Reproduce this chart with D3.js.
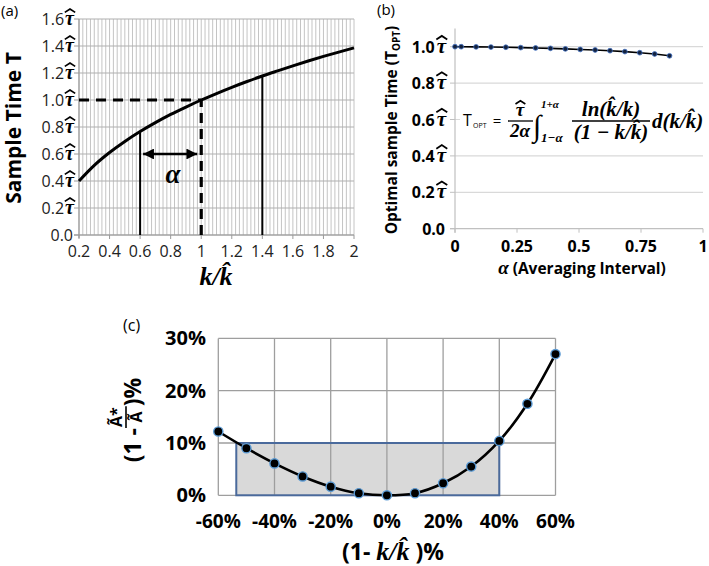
<!DOCTYPE html>
<html><head><meta charset="utf-8">
<script src="https://cdn.jsdelivr.net/npm/d3@7"></script>
<style>body{margin:0;background:#fff}svg{display:block}</style>
</head><body>
<svg id="chart" width="709" height="566"></svg>
<script>
// ---------- Panel (a) data ----------
const ratioA = [0.2,0.3,0.4,0.5,0.6,0.7,0.8,0.9,1.0,1.1,1.2,1.3,1.4,1.5,1.6,1.7,1.8,1.9,2.0];
const sampleTimeA = [0.40,0.516,0.611,0.693,0.766,0.832,0.893,0.948,1.00,1.048,1.094,1.137,1.178,1.216,1.253,1.289,1.323,1.355,1.386];
const yTicksA = [0,0.2,0.4,0.6,0.8,1.0,1.2,1.4,1.6];
const xTicksA = [0.2,0.4,0.6,0.8,1,1.2,1.4,1.6,1.8,2];
const markersA = [0.6, 1.4];
const refA = [1.0];
const arrowA = {from:0.6, to:1.0, level:0.6};

// ---------- Panel (b) data ----------
const alphaB = [0,0.025,0.085,0.145,0.205,0.265,0.325,0.385,0.445,0.505,0.565,0.625,0.685,0.745,0.805,0.865];
const toptB = [1.000,1.000,0.999,0.998,0.997,0.995,0.993,0.991,0.988,0.985,0.982,0.978,0.973,0.967,0.960,0.950];
const yTicksB = [0,0.2,0.4,0.6,0.8,1.0];
const xTicksB = [0,0.25,0.5,0.75,1];
const xLabelsB = ["0","0.25","0.5","0.75","1"];

// ---------- Panel (c) data ----------
const devC = [-60,-50,-40,-30,-20,-10,0,10,20,30,40,50,60];
const errC = [12.2,9.0,6.1,3.6,1.65,0.4,0,0.4,2.3,5.5,10.4,17.5,27.0];
const yTicksC = [0,10,20,30];
const xTicksC = [-60,-40,-20,0,20,40,60];
const bandXC = [-53.6,40];
const bandYC = [0,10];

const SANS = "'Open Sans', sans-serif";
const SERIF = "'Liberation Serif', 'DejaVu Serif', serif";
const KHAT = "k\u0302";
const svg = d3.select("#chart");

function txt(g, s, x, y, o) {
  o = o || {};
  return g.append("text").attr("x", x).attr("y", y)
    .attr("font-family", o.family || SANS).attr("font-size", o.size || 14)
    .attr("font-weight", o.weight || "normal").attr("font-style", o.style || "normal")
    .attr("text-anchor", o.anchor || "start").attr("fill", o.fill || "#000").text(s);
}
function tauHat(g, x, yb, size) {
  const t = txt(g, "\u03C4", x, yb, {family:SERIF, size:size, weight:"bold", style:"italic"});
  const w = t.node().getComputedTextLength();
  const cx = x + w*0.55, top = yb - size*0.80, hw = size*0.26, hh = size*0.17;
  g.append("path").attr("d", `M${cx-hw},${top+hh} L${cx},${top} L${cx+hw},${top+hh}`)
    .attr("fill","none").attr("stroke","#000").attr("stroke-width", size*0.085).attr("stroke-linejoin","miter");
  return w;
}
function measure(s, o) {
  const t = txt(svg, s, 0, -100, o);
  const w = t.node().getComputedTextLength();
  t.remove();
  return w;
}

// ================= Panel (a) =================
(function(){
  const g = svg.append("g");
  const x = d3.scaleLinear().domain([0.2,2]).range([79,354]);
  const y = d3.scaleLinear().domain([0,1.6]).range([235,19]);
  const gridX = d3.range(0, 73).map(i => 0.2 + i*0.025);
  g.selectAll(".vg").data(gridX).join("line")
    .attr("x1", d=>x(d)).attr("x2", d=>x(d)).attr("y1", y(1.6)).attr("y2", y(0))
    .attr("stroke", "#c4c4c4").attr("stroke-width", 1);
  g.selectAll(".hg").data(yTicksA).join("line")
    .attr("x1", x(0.2)).attr("x2", x(2)).attr("y1", d=>y(d)).attr("y2", d=>y(d))
    .attr("stroke", "#b0b0b0").attr("stroke-width", 1.2);
  g.append("line").attr("x1", x(0.2)).attr("x2", x(0.2)).attr("y1", y(1.6)).attr("y2", y(0)+3).attr("stroke","#9a9a9a").attr("stroke-width",1.2);
  g.append("line").attr("x1", x(0.2)-5).attr("x2", x(2)).attr("y1", y(0)).attr("y2", y(0)).attr("stroke","#9a9a9a").attr("stroke-width",1.2);
  g.selectAll(".yt").data(yTicksA).join("line").attr("x1", x(0.2)-5).attr("x2", x(0.2)).attr("y1", d=>y(d)).attr("y2", d=>y(d)).attr("stroke","#9a9a9a");
  g.selectAll(".xt").data(xTicksA).join("line").attr("x1", d=>x(d)).attr("x2", d=>x(d)).attr("y1", y(0)).attr("y2", y(0)+4).attr("stroke","#9a9a9a");
  const tw = measure("\u03C4", {family:SERIF, size:20, weight:"bold", style:"italic"});
  yTicksA.forEach(v => {
    if (v > 0) {
      txt(g, v.toFixed(1), x(0.2)-5-tw-1, y(v)+6, {size:16, anchor:"end", fill:"#222"});
      tauHat(g, x(0.2)-5-tw, y(v)+6, 20);
    } else {
      txt(g, v.toFixed(1), x(0.2)-6, y(v)+6, {size:16, anchor:"end", fill:"#222"});
    }
  });
  xTicksA.forEach(v => txt(g, String(v), x(v), 257, {size:16, anchor:"middle", fill:"#222"}));
  const pts = ratioA.map((r,i)=>[r, sampleTimeA[i]]);
  g.append("path").attr("d", d3.line().x(d=>x(d[0])).y(d=>y(d[1])).curve(d3.curveCatmullRom)(pts))
    .attr("fill","none").attr("stroke","#000").attr("stroke-width",3);
  markersA.forEach(m => {
    const v = sampleTimeA[ratioA.findIndex(r => Math.abs(r-m) < 1e-9)];
    g.append("line").attr("x1", x(m)).attr("x2", x(m)).attr("y1", y(0)).attr("y2", y(v)).attr("stroke","#000").attr("stroke-width",2);
  });
  refA.forEach(m => {
    const v = sampleTimeA[ratioA.findIndex(r => Math.abs(r-m) < 1e-9)];
    g.append("line").attr("x1", x(m)).attr("x2", x(m)).attr("y1", y(0)).attr("y2", y(v)).attr("stroke","#000").attr("stroke-width",3.2).attr("stroke-dasharray","10,6");
    g.append("line").attr("x1", x(0.2)).attr("x2", x(m)).attr("y1", y(v)).attr("y2", y(v)).attr("stroke","#000").attr("stroke-width",3.2).attr("stroke-dasharray","10,7");
  });
  const defs = svg.append("defs");
  defs.append("marker").attr("id","ah").attr("viewBox","0 0 10 10").attr("refX",10).attr("refY",5)
    .attr("markerWidth",5).attr("markerHeight",4.5).attr("markerUnits","strokeWidth").attr("orient","auto-start-reverse")
    .append("path").attr("d","M0,0 L10,5 L0,10 Z").attr("fill","#000");
  g.append("line").attr("x1", x(arrowA.from)+3).attr("x2", x(arrowA.to)-4).attr("y1", y(arrowA.level)).attr("y2", y(arrowA.level))
    .attr("stroke","#000").attr("stroke-width",2.4).attr("marker-start","url(#ah)").attr("marker-end","url(#ah)");
  txt(g, "\u03B1", x(0.815), y(0.44)+7, {family:SERIF, size:27, weight:"bold", style:"italic", anchor:"middle"});
  txt(g, "Sample Time T", 0, 0, {size:21, weight:"bold", anchor:"middle"}).attr("transform","translate(21,128) rotate(-90)");
  txt(g, "k/" + KHAT, 216, 285, {family:SERIF, size:26, weight:"bold", style:"italic", anchor:"middle"});
  txt(g, "(a)", 1, 16, {size:15});
})();

// ================= Panel (b) =================
(function(){
  const g = svg.append("g");
  const x = d3.scaleLinear().domain([0,1]).range([455,703]);
  const y = d3.scaleLinear().domain([0,1.1]).range([228.7,28.5]);
  g.selectAll(".hg").data(yTicksB.filter(v=>v>0)).join("line")
    .attr("x1", x(0)).attr("x2", x(1)).attr("y1", d=>y(d)).attr("y2", d=>y(d))
    .attr("stroke","#d9d9d9").attr("stroke-width",1.2);
  g.append("line").attr("x1", x(0)).attr("x2", x(0)).attr("y1", y(1.1)).attr("y2", y(0)+4).attr("stroke","#c0c0c0").attr("stroke-width",1.2);
  g.append("line").attr("x1", x(0)-5).attr("x2", x(1)).attr("y1", y(0)).attr("y2", y(0)).attr("stroke","#c0c0c0").attr("stroke-width",1.2);
  g.selectAll(".yt").data(yTicksB).join("line").attr("x1", x(0)-5).attr("x2", x(0)).attr("y1", d=>y(d)).attr("y2", d=>y(d)).attr("stroke","#c0c0c0");
  g.selectAll(".xt").data(xTicksB).join("line").attr("x1", d=>x(d)).attr("x2", d=>x(d)).attr("y1", y(0)).attr("y2", y(0)+4).attr("stroke","#c0c0c0");
  const tw = measure("\u03C4", {family:SERIF, size:21, weight:"bold", style:"italic"});
  yTicksB.forEach(v => {
    if (v > 0) {
      txt(g, v.toFixed(1), 446-tw-2, y(v)+6, {size:16, weight:"bold", anchor:"end"});
      tauHat(g, 446-tw, y(v)+6, 21);
    } else {
      txt(g, v.toFixed(1), 445, y(v)+6, {size:16, weight:"bold", anchor:"end"});
    }
  });
  xTicksB.forEach((v,i) => txt(g, xLabelsB[i], x(v), 252, {size:16, weight:"bold", anchor:"middle"}));
  const pts = alphaB.map((a,i)=>[a, toptB[i]]);
  g.append("path").attr("d", d3.line().x(d=>x(d[0])).y(d=>y(d[1]))(pts)).attr("fill","none").attr("stroke","#000").attr("stroke-width",1.6);
  g.selectAll(".dot").data(pts).join("circle").attr("cx", d=>x(d[0])).attr("cy", d=>y(d[1])).attr("r",2.4)
    .attr("fill","#14233f").attr("stroke","#4472c4").attr("stroke-width",0.8);
  const yt = g.append("text").attr("transform","translate(397,130) rotate(-90)").attr("text-anchor","middle")
    .attr("font-family", SANS).attr("font-weight","bold").attr("font-size",15.5);
  yt.append("tspan").text("Optimal sample Time (T");
  yt.append("tspan").attr("font-size",10).attr("dy",3).text("OPT");
  yt.append("tspan").attr("dy",-3).text(")");
  const xt = g.append("text").attr("x", 582).attr("y", 274).attr("text-anchor","middle").attr("font-family", SANS).attr("font-weight","bold").attr("font-size",15.5);
  xt.append("tspan").attr("font-family", SERIF).attr("font-style","italic").attr("font-size",19).text("\u03B1");
  xt.append("tspan").text(" (Averaging Interval)");
  txt(g, "(b)", 377, 15, {size:15});

  const f = g.append("g");
  f.append("rect").attr("x",460).attr("y",98).attr("width",249).attr("height",47).attr("fill","#fff");
  txt(f, "T", 463, 126, {size:16});
  txt(f, "OPT", 473, 128, {size:7});
  txt(f, "=", 497, 126, {size:15, anchor:"middle"});
  const M = {family:SERIF, weight:"bold", style:"italic"};
  const tws = measure("\u03C4", Object.assign({size:19}, M));
  tauHat(f, 520 - tws/2, 116, 19);
  f.append("line").attr("x1",508).attr("x2",533).attr("y1",121).attr("y2",121).attr("stroke","#000").attr("stroke-width",1.3);
  txt(f, "2\u03B1", 520, 137, Object.assign({size:19, anchor:"middle"}, M));
  txt(f, "\u222B", 537, 136, {family:SERIF, size:30, anchor:"middle"});
  txt(f, "1+\u03B1", 541, 108, Object.assign({size:11}, M));
  txt(f, "1\u2212\u03B1", 541, 142, Object.assign({size:13}, M));
  txt(f, "ln(" + KHAT + "/k)", 611, 116, Object.assign({size:21, anchor:"middle"}, M));
  f.append("line").attr("x1",572).attr("x2",650).attr("y1",121).attr("y2",121).attr("stroke","#000").attr("stroke-width",1.3);
  txt(f, "(1 \u2212 k/" + KHAT + ")", 611, 139, Object.assign({size:21, anchor:"middle"}, M));
  txt(f, "d(k/" + KHAT + ")", 652, 128, Object.assign({size:21}, M));
})();

// ================= Panel (c) =================
(function(){
  const g = svg.append("g");
  const x = d3.scaleLinear().domain([-60,60]).range([218.3,555.5]);
  const y = d3.scaleLinear().domain([0,30]).range([495.3,338.4]);
  g.append("rect").attr("x", x(bandXC[0])).attr("y", y(bandYC[1])).attr("width", x(bandXC[1])-x(bandXC[0])).attr("height", y(bandYC[0])-y(bandYC[1]))
    .attr("fill","#d9d9d9");
  g.selectAll(".vg").data(xTicksC).join("line").attr("x1", d=>x(d)).attr("x2", d=>x(d)).attr("y1", y(30)).attr("y2", y(0))
    .attr("stroke","#9e9e9e").attr("stroke-width",1.3);
  g.selectAll(".hg").data(yTicksC).join("line").attr("x1", x(-60)).attr("x2", x(60)).attr("y1", d=>y(d)).attr("y2", d=>y(d))
    .attr("stroke","#9e9e9e").attr("stroke-width",1.3);
  g.append("rect").attr("x", x(bandXC[0])).attr("y", y(bandYC[1])).attr("width", x(bandXC[1])-x(bandXC[0])).attr("height", y(bandYC[0])-y(bandYC[1]))
    .attr("fill","none").attr("stroke","#4a6a9c").attr("stroke-width",2);
  yTicksC.forEach(v => txt(g, v + "%", 206, y(v)+7, {size:20, weight:"bold", anchor:"end"}));
  xTicksC.forEach(v => txt(g, v + "%", x(v), 528, {size:19, weight:"bold", anchor:"middle"}));
  const pts = devC.map((d,i)=>[d, errC[i]]);
  g.append("path").attr("d", d3.line().x(d=>x(d[0])).y(d=>y(d[1])).curve(d3.curveCatmullRom)(pts))
    .attr("fill","none").attr("stroke","#000").attr("stroke-width",2.6);
  g.selectAll(".dot").data(pts).join("circle").attr("cx", d=>x(d[0])).attr("cy", d=>y(d[1])).attr("r",4.6)
    .attr("fill","#000").attr("stroke","#5b9bd5").attr("stroke-width",1.4);
  txt(g, "(c)", 123, 331, {size:16});
  const xt = g.append("text").attr("x", 393).attr("y", 560).attr("text-anchor","middle").attr("font-family", SANS).attr("font-weight","bold").attr("font-size",23);
  xt.append("tspan").text("(1- ");
  xt.append("tspan").attr("font-family", SERIF).attr("font-style","italic").attr("font-size",26).text("k/" + KHAT);
  xt.append("tspan").text(" )%");
  const yg = g.append("g").attr("transform","translate(141,420) rotate(-90)");
  const o = {size:23, weight:"bold"};
  const p1 = txt(yg, "(1 - ", 0, 0, o);
  const w1 = p1.node().getComputedTextLength();
  const num = txt(yg, "A\u0303*", 0, -19, {size:16, weight:"bold"});
  const den = txt(yg, "A\u0303", 0, 1, {size:16, weight:"bold"});
  const wn = num.node().getComputedTextLength(), wd = den.node().getComputedTextLength();
  const wf = Math.max(wn, wd) + 2;
  const p3 = txt(yg, ")%", 0, 0, o);
  const w3 = p3.node().getComputedTextLength();
  const total = w1 + wf + w3;
  const s = -total/2;
  p1.attr("x", s);
  num.attr("x", s + w1 + (wf-wn)/2);
  den.attr("x", s + w1 + (wf-wd)/2);
  yg.append("line").attr("x1", s+w1).attr("x2", s+w1+wf).attr("y1",-15).attr("y2",-15).attr("stroke","#000").attr("stroke-width",1.6);
  p3.attr("x", s + w1 + wf);
})();
</script>
</body></html>
